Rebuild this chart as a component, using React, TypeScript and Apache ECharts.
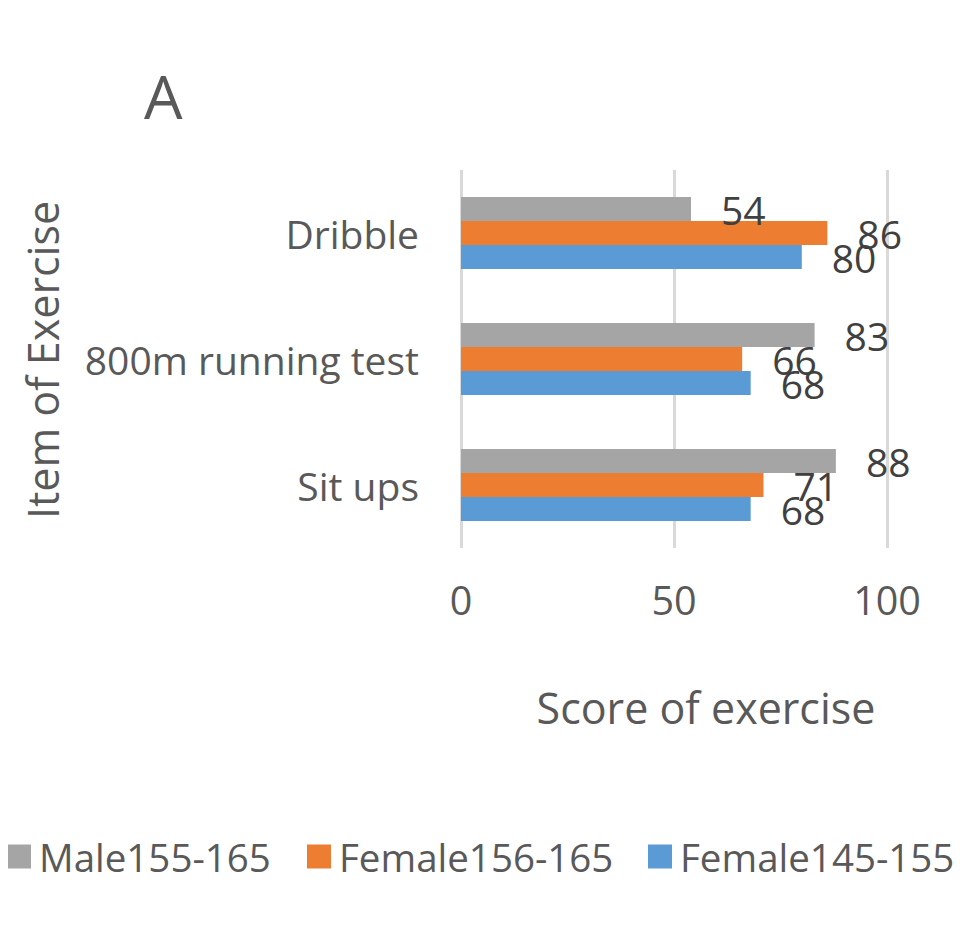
import React, { useEffect, useRef } from "react";
import * as echarts from "echarts";

const categories = ["Sit ups", "800m running test", "Dribble"];
const seriesNames = ["Male155-165", "Female156-165", "Female145-155"];
const male155_165 = [88, 83, 54];
const female156_165 = [71, 66, 86];
const female145_155 = [68, 68, 80];
const xTicks = { min: 0, max: 100, interval: 50 };
const colors = ["#a5a5a5", "#ed7d31", "#5b9bd5"];
const legendLefts = [-6, 294, 635];

const FONT = "Open Sans";
const TEXT = "#595959";

export default function App() {
  const ref = useRef<HTMLDivElement>(null);
  useEffect(() => {
    if (!ref.current) return;
    const chart = echarts.init(ref.current, undefined, { renderer: "svg" });
    const values = [male155_165, female156_165, female145_155];
    chart.setOption({
      animation: false,
      backgroundColor: "#ffffff",
      textStyle: { fontFamily: FONT },
      grid: { left: 453, right: 96, top: 162, bottom: 393, containLabel: false },
      legend: seriesNames.map((name, i) => ({
        data: [name],
        left: legendLefts[i],
        top: 824,
        itemWidth: 24,
        itemHeight: 24,
        icon: "rect",
        textStyle: { fontFamily: FONT, fontSize: 38.5, color: TEXT, padding: [0, 0, 0, 3] },
      })),
      xAxis: {
        type: "value",
        min: xTicks.min,
        max: xTicks.max,
        interval: xTicks.interval,
        axisLine: { show: false },
        axisTick: { show: false },
        splitLine: { show: true, lineStyle: { color: "#d9d9d9", width: 3 } },
        axisLabel: { fontFamily: FONT, fontSize: 39.5, color: TEXT, margin: 32 },
      },
      yAxis: {
        type: "category",
        data: categories,
        axisLine: { show: false },
        axisTick: { show: false },
        axisLabel: { fontFamily: FONT, fontSize: 39, color: TEXT, margin: 42 },
      },
      series: seriesNames.map((name, i) => ({
        name,
        type: "bar",
        data: values[i],
        barWidth: 24,
        barGap: "0%",
        itemStyle: { color: colors[i] },
        label: {
          show: true,
          position: "right",
          distance: 30,
          fontFamily: FONT,
          fontSize: 39,
          color: "#404040",
        },
      })),
      graphic: [
        {
          type: "text",
          left: 136,
          top: 57,
          style: { text: "A", fontFamily: FONT, fontSize: 61, fill: TEXT },
        },
        {
          type: "text",
          x: 698,
          y: 699,
          style: {
            text: "Score of exercise",
            fontFamily: FONT,
            fontSize: 43,
            fill: TEXT,
            align: "center",
            verticalAlign: "middle",
          },
        },
        {
          type: "text",
          x: 34.5,
          y: 352,
          rotation: Math.PI / 2,
          style: {
            text: "Item of Exercise",
            fontFamily: FONT,
            fontSize: 43,
            fill: TEXT,
            align: "center",
            verticalAlign: "middle",
          },
        },
      ],
    });
    return () => chart.dispose();
  }, []);
  return <div ref={ref} style={{ width: 975, height: 933 }} />;
}
